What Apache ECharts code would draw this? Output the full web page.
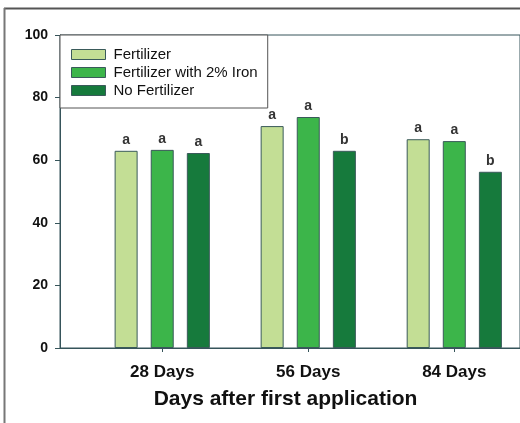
<!DOCTYPE html>
<html><head><meta charset="utf-8">
<script src="https://cdn.jsdelivr.net/npm/echarts@6/dist/echarts.min.js"></script>
<style>html,body{margin:0;padding:0;background:#fff}#c{width:520px;height:423px}</style>
</head><body><div id="c"></div>
<script>
const categories = ['28 Days', '56 Days', '84 Days'];
const categoryPos = [0.7, 1.7, 2.7];
const seriesNames = ['Fertilizer', 'Fertilizer with 2% Iron', 'No Fertilizer'];
const fertilizer = [63.0, 70.9, 66.7];
const fertilizerIron = [63.3, 73.8, 66.1];
const noFertilizer = [62.3, 63.0, 56.3];
const lettersFertilizer = ['a', 'a', 'a'];
const lettersIron = ['a', 'a', 'a'];
const lettersNo = ['a', 'b', 'b'];
const yTicks = [0, 20, 40, 60, 80, 100];

const colors = ['#c3de95', '#3cb54a', '#167a3c'];
const values = [fertilizer, fertilizerIron, noFertilizer];
const letters = [lettersFertilizer, lettersIron, lettersNo];
const axisColor = '#36545a';
const font = '"Liberation Sans", Arial, sans-serif';

const chart = echarts.init(document.getElementById('c'));
chart.setOption({
  animation: false,
  backgroundColor: '#fff',
  textStyle: { fontFamily: font },
  graphic: [
    { type: 'line', shape: { x1: 4, y1: 8.5, x2: 520, y2: 8.5 }, style: { stroke: '#555', lineWidth: 2 } },
    { type: 'line', shape: { x1: 4.5, y1: 8, x2: 4.5, y2: 423 }, style: { stroke: '#777', lineWidth: 2 } }
  ],
  grid: { left: 60, top: 35, right: 0, bottom: 75, show: true, borderColor: axisColor, borderWidth: 1, backgroundColor: 'transparent' },
  legend: {
    orient: 'vertical', left: 60, top: 35,
    data: seriesNames,
    icon: 'rect', itemWidth: 34, itemHeight: 10, itemGap: 3,
    padding: [12, 10, 10, 11],
    borderColor: '#555', borderWidth: 1, backgroundColor: '#fff',
    textStyle: { fontSize: 15, color: '#111', fontFamily: font, padding: [0, 0, 0, 3] },
    itemStyle: { borderColor: '#3a5a5a', borderWidth: 1 }
  },
  xAxis: {
    type: 'value', min: 0, max: 3.15,
    splitLine: { show: false },
    axisLine: { show: true, onZero: false, lineStyle: { color: axisColor, width: 1 } },
    axisTick: { show: true, customValues: categoryPos, length: 4, lineStyle: { color: axisColor } },
    axisLabel: {
      customValues: categoryPos, margin: 16,
      formatter: v => { const i = categoryPos.findIndex(p => Math.abs(p - v) < 1e-6); return i >= 0 ? categories[i] : ''; },
      fontSize: 17, fontWeight: 'bold', color: '#111', fontFamily: font
    },
    name: 'Days after first application', nameLocation: 'middle', nameGap: 41,
    nameTextStyle: { fontSize: 21, fontWeight: 'bold', color: '#111', fontFamily: font, padding: [0, 9, 0, 0] }
  },
  yAxis: {
    type: 'value', min: 0, max: 100, interval: 20,
    splitLine: { show: false },
    axisLine: { show: true, lineStyle: { color: axisColor, width: 1 } },
    axisTick: { show: true, length: 5, lineStyle: { color: axisColor } },
    axisLabel: { fontSize: 14, fontWeight: 'bold', color: '#111', margin: 12, fontFamily: font,
      formatter: v => yTicks.includes(v) ? String(v) : '' }
  },
  series: seriesNames.map((name, s) => ({
    name, type: 'bar',
    barWidth: 23, barGap: '57%',
    data: values[s].map((v, i) => [categoryPos[i], v]),
    itemStyle: { color: colors[s], borderColor: '#3a5a5a', borderWidth: 1 },
    label: { show: true, position: 'top', distance: 4, fontSize: 14, fontWeight: 'bold', color: '#333', fontFamily: font,
      formatter: p => letters[s][p.dataIndex] }
  }))
});
</script></body></html>
